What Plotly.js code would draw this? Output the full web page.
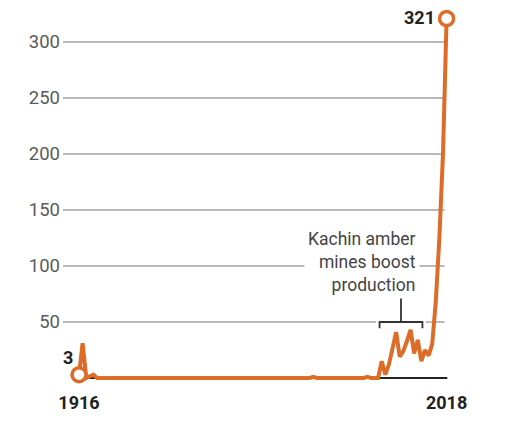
<!DOCTYPE html>
<html>
<head>
<meta charset="utf-8">
<script src="https://cdn.plot.ly/plotly-3.0.1.min.js"></script>
<style>
  html, body { margin: 0; padding: 0; background: #fff; }
  #chart { width: 508px; height: 428px; }
</style>
</head>
<body>
<div id="chart"></div>
<script>
// amber production
const years  = [1916, 1917, 1918, 1919, 1920, 1921, 1980, 1981, 1982, 1995,
                1996, 1997, 1999, 2000, 2001, 2002, 2003, 2004, 2005, 2006,
                2007, 2008, 2009, 2010, 2011, 2012, 2013, 2014, 2015, 2016,
                2017, 2018];
const values = [3, 31, 0, 2, 3, 0, 0, 1, 0, 0,
                1, 0, 0, 15, 3, 12, 28, 41, 19, 24,
                33, 43, 22, 34, 15, 25, 20, 30, 68, 125,
                200, 321];

const gridVals   = [50, 100, 150, 200, 250, 300];
const endYears   = [1916, 2018];
const endLabels  = ['3', '321'];
const noteText   = 'Kachin amber<br>mines boost<br>production';
const bracketYears = [1999.4, 2011.3];

const orange = '#dd6c28';
const font = 'Roboto, Arial, sans-serif';
const firstIdx = 0, lastIdx = years.length - 1;

const line = {
  x: years, y: values,
  type: 'scatter', mode: 'lines',
  line: {color: orange, width: 4},
  hoverinfo: 'skip'
};
const ends = {
  x: [years[firstIdx], years[lastIdx]],
  y: [values[firstIdx], values[lastIdx]],
  type: 'scatter', mode: 'markers',
  marker: {size: 14, color: '#fff', line: {color: orange, width: 3.5}},
  cliponaxis: false,
  hoverinfo: 'skip'
};

const shapes = gridVals.map(v => ({
  type: 'line', xref: 'paper', yref: 'y', layer: 'below',
  x0: 0.005, x1: 0.959, y0: v, y1: v,
  line: {color: '#a3a3a3', width: 1.5}
}));
// baseline
shapes.push({
  type: 'line', xref: 'x', yref: 'y', layer: 'below',
  x0: 1916, x1: 2018.2, y0: 0, y1: 0,
  line: {color: '#222', width: 2}
});
// white gap around the bracket, then the bracket itself
const bMid = (bracketYears[0] + bracketYears[1]) / 2;
shapes.push({
  type: 'rect', xref: 'x', yref: 'y', layer: 'below',
  x0: bracketYears[0] - 0.9, x1: bracketYears[1] + 0.9, y0: 47, y1: 53,
  fillcolor: '#fff', line: {width: 0}
});
shapes.push({
  type: 'path', xref: 'x', yref: 'y', layer: 'below',
  path: `M ${bracketYears[0]} 44.5 L ${bracketYears[0]} 50 L ${bracketYears[1]} 50 L ${bracketYears[1]} 44.5 M ${bMid} 50 L ${bMid} 76`,
  line: {color: '#333', width: 1.8}
});

const annotations = [
  {x: years[firstIdx], y: values[firstIdx], xref: 'x', yref: 'y',
   text: '<b>' + endLabels[0] + '</b>', showarrow: false,
   xanchor: 'center', yanchor: 'middle', xshift: -11, yshift: 17,
   font: {family: font, size: 18, color: '#222'}},
  {x: years[lastIdx], y: values[lastIdx], xref: 'x', yref: 'y',
   text: '<b>' + endLabels[1] + '</b>', showarrow: false,
   xanchor: 'right', yanchor: 'middle', xshift: -10, yshift: 1,
   font: {family: font, size: 18, color: '#222'}},
  {x: 2010.5, y: 104, xref: 'x', yref: 'y',
   text: noteText, showarrow: false, align: 'right',
   xanchor: 'right', yanchor: 'middle',
   bgcolor: '#fff', borderpad: 3,
   font: {family: font, size: 17.5, color: '#444'}}
];

const layout = {
  width: 508, height: 428,
  margin: {l: 61, r: 46.5, t: 10, b: 38},
  paper_bgcolor: '#fff', plot_bgcolor: '#fff',
  showlegend: false,
  xaxis: {
    range: [1911, 2022], showgrid: false, zeroline: false, showline: false,
    tickmode: 'array', tickvals: endYears, ticktext: endYears.map(String),
    ticks: '', tickfont: {family: font, size: 18, color: '#222', weight: 'bold'},
    fixedrange: true
  },
  yaxis: {
    range: [-10.71, 328.57], showgrid: false, zeroline: false, showline: false,
    tickmode: 'array', tickvals: gridVals, ticks: '',
    tickfont: {family: font, size: 18.5, color: '#5a5a5a'},
    fixedrange: true
  },
  shapes: shapes,
  annotations: annotations
};

Plotly.newPlot('chart', [line, ends], layout, {displayModeBar: false, staticPlot: true});
</script>
</body>
</html>
